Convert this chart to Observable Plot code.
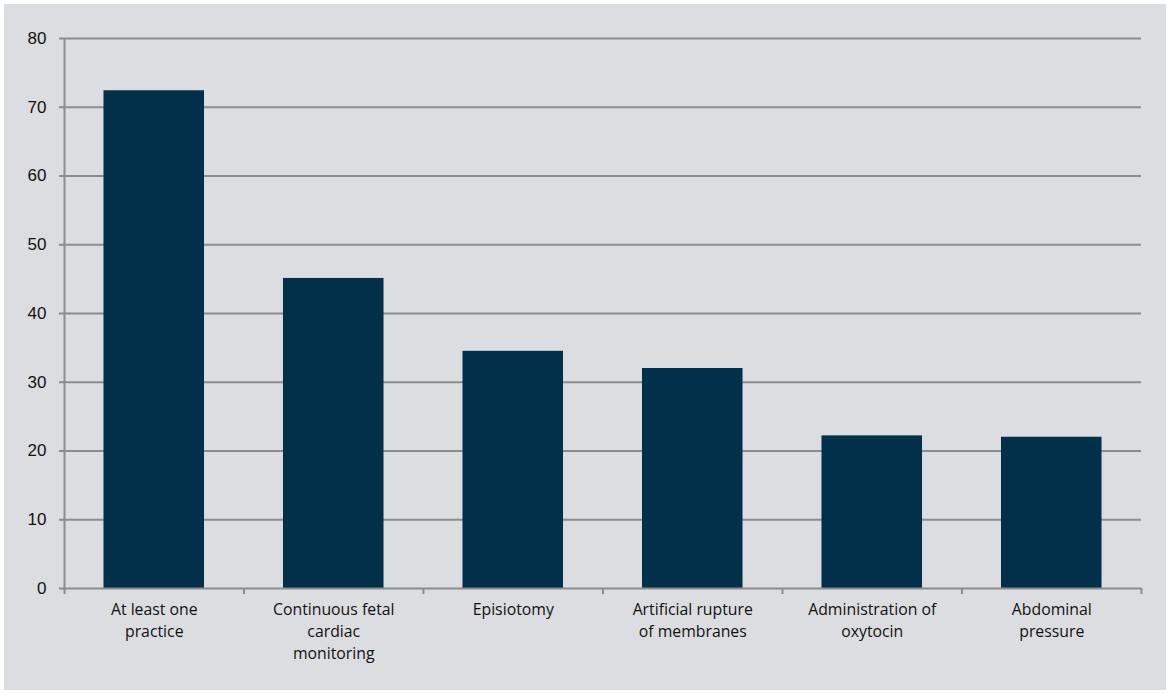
<!DOCTYPE html>
<html>
<head>
<meta charset="utf-8">
<script src="https://cdn.jsdelivr.net/npm/d3@7"></script>
<script src="https://cdn.jsdelivr.net/npm/@observablehq/plot@0.6"></script>
<style>
  html, body { margin: 0; padding: 0; background: #ffffff; }
  #wrap { padding: 4px; width: 1162px; }
  #wrap svg { background: #dcdde0; display: block; }
</style>
</head>
<body>
<div id="wrap"></div>
<script>
const categories = [
  "At least one\npractice",
  "Continuous fetal\ncardiac\nmonitoring",
  "Episiotomy",
  "Artificial rupture\nof membranes",
  "Administration of\noxytocin",
  "Abdominal\npressure"
];
const values = [72.4, 45.1, 34.5, 32.0, 22.2, 22.0];
const yTicks = [0, 10, 20, 30, 40, 50, 60, 70, 80];

const data = categories.map((c, i) => ({i, c, v: values[i]}));
const pad = 0.22;
const grid = "#8c8c8c";

const chart = Plot.plot({
  width: 1162,
  height: 686,
  marginLeft: 60,
  marginRight: 25,
  marginTop: 34,
  marginBottom: 102,
  style: {background: "#dcdde0", overflow: "visible"},
  x: {domain: [0, categories.length], axis: null},
  y: {domain: [0, 80], axis: null},
  marks: [
    Plot.ruleY(yTicks.filter(t => t > 0), {stroke: grid, strokeWidth: 2}),
    Plot.axisY({ticks: yTicks, tickSize: 5, tickPadding: 13, stroke: grid, strokeWidth: 2,
      fontSize: 17, fontFamily: "Liberation Sans, Arial, sans-serif", fill: "#111", tickFormat: d => d, label: null}),
    Plot.ruleX([0], {stroke: grid, strokeWidth: 2}),
    Plot.rectY(data, {x1: d => d.i + pad, x2: d => d.i + 1 - pad, y: "v", fill: "#02304a"}),
    Plot.ruleY([0], {stroke: grid, strokeWidth: 2}),
    Plot.axisX({ticks: d3.range(categories.length + 1), tickSize: 6, stroke: grid, strokeWidth: 2,
      tickFormat: () => "", label: null}),
    Plot.axisX({ticks: data.map(d => d.i + 0.5), tickSize: 0, tickPadding: 11,
      tickFormat: t => categories[Math.floor(t)], fontSize: 15.8, lineHeight: 1.38,
      fontFamily: "Open Sans, sans-serif", fill: "#111", label: null})
  ]
});
document.getElementById("wrap").append(chart);
</script>
</body>
</html>
